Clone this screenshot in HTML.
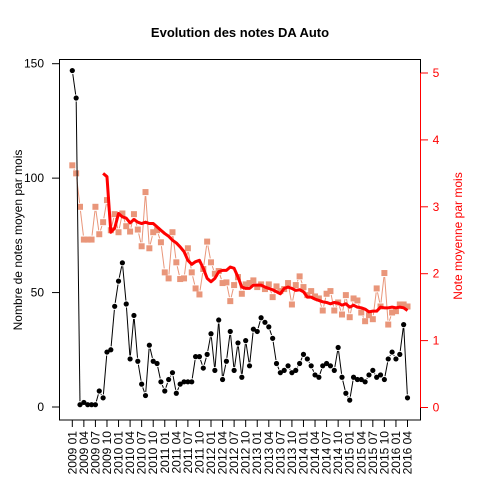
<!DOCTYPE html>
<html><head><meta charset="utf-8"><style>
body{margin:0;background:#fff}
svg text{font-family:"Liberation Sans",Arial,sans-serif}
</style></head><body>
<svg id="chart" width="480" height="480" xmlns="http://www.w3.org/2000/svg">
<rect width="480" height="480" fill="#fff"/>
<text x="240" y="37" text-anchor="middle" font-size="13" font-weight="bold">Evolution des notes DA Auto</text>
<g id="plot"></g>
</svg>
<script>
const counts = [147,135,1,2,1,1,1,7,4,24,25,44,55,63,45,21,40,20,10,5,27,20,19,11,7,12,15,6,10,11,11,11,22,22,17,23,32,16,38,12,20,33,16,28,13,29,18,34,33,39,37,35,30,19,15,16,18,15,16,19,23,21,18,14,13,18,19,18,16,26,13,6,3,13,12,12,11,14,16,13,14,12,21,24,21,23,36,4];
const notes = [3.62,3.5,3.0,2.51,2.51,2.51,3.0,2.59,2.77,3.1,2.65,2.89,2.62,2.9,2.71,2.63,2.89,2.66,2.41,3.22,2.38,2.62,2.65,2.47,2.02,1.93,2.62,2.17,1.92,1.93,2.38,2.02,1.78,1.69,2.07,2.48,2.17,2.0,2.04,1.86,1.87,1.59,1.83,1.95,1.70,1.84,1.86,1.9,1.8,1.84,1.77,1.84,1.65,1.81,1.74,1.77,1.86,1.54,1.83,1.96,1.8,1.68,1.74,1.66,1.63,1.45,1.7,1.74,1.45,1.57,1.39,1.68,1.35,1.63,1.6,1.42,1.29,1.38,1.32,1.78,1.51,2.01,1.24,1.42,1.44,1.54,1.54,1.51];
const trendStart = 8;
const trend = [3.5,3.45,2.62,2.68,2.9,2.85,2.83,2.76,2.81,2.77,2.75,2.77,2.75,2.75,2.7,2.65,2.6,2.56,2.5,2.46,2.4,2.33,2.2,2.14,2.18,2.2,2.08,1.93,1.88,1.93,2.03,2.05,2.05,2.1,2.08,1.95,1.8,1.78,1.78,1.83,1.83,1.83,1.8,1.78,1.76,1.73,1.7,1.78,1.8,1.78,1.75,1.76,1.73,1.65,1.65,1.62,1.6,1.58,1.57,1.55,1.57,1.56,1.53,1.55,1.5,1.53,1.5,1.49,1.47,1.43,1.44,1.44,1.5,1.49,1.49,1.5,1.49,1.5,1.49,1.45];
const leftTicks = [0,50,100,150];
const rightTicks = [0,1,2,3,4,5];
const startYear = 2009, startMonth = 1;

const NS="http://www.w3.org/2000/svg";
const g=document.getElementById('plot');
function el(t,a,p){const e=document.createElementNS(NS,t);for(const k in a)e.setAttribute(k,a[k]);(p||g).appendChild(e);return e;}
const X=i=>72.3+i*(407.5-72.3)/87;
const YL=v=>407-v*(407-63.7)/150;
const YR=v=>407.5-v*(407.5-73)/5;

function typeB(pts,color,w,gap,name){
  for(let i=0;i<pts.length-1;i++){
    const [x1,y1]=pts[i],[x2,y2]=pts[i+1];
    const dx=x2-x1,dy=y2-y1,L=Math.hypot(dx,dy);
    if(L<=2*gap) continue;
    const ux=dx/L,uy=dy/L;
    const s=el('line',{x1:x1+ux*gap,y1:y1+uy*gap,x2:x2-ux*gap,y2:y2-uy*gap,stroke:color,'stroke-width':w});
    
    
  }
}
// salmon notes
const np=notes.map((v,i)=>[X(i),YR(v)]);
typeB(np,'#E9967A',1,4,'notes-line-segment');
np.forEach(([x,y])=>{
  const r=el('rect',{x:x-3,y:y-3,width:6,height:6,fill:'#E9967A'});
  
  
});
// red trend
const tl=el('polyline',{points:trend.map((v,i)=>X(i+trendStart)+','+YR(v)).join(' '),fill:'none',stroke:'#FF0000','stroke-width':3,'stroke-linejoin':'round'});


// black counts
const cp=counts.map((v,i)=>[X(i),YL(v)]);
typeB(cp,'#000',1,3.5,'count-line-segment');
cp.forEach(([x,y])=>{
  const c=el('circle',{cx:x,cy:y,r:2.6,fill:'#000'});
  
  
});
// box
const box=el('rect',{x:59.5,y:59.5,width:361,height:360.5,fill:'none',stroke:'#000','stroke-width':1});


// left axis
leftTicks.forEach(v=>{
  const y=YL(v);
  const t=el('line',{x1:52,y1:y,x2:59.5,y2:y,stroke:'#000'});
  
  
  const lb=el('text',{x:44,y:y+4,'text-anchor':'end','font-size':12});
  lb.textContent=v;
  
  
});
const lt=el('text',{transform:'translate(22,240) rotate(-90)','text-anchor':'middle','font-size':12});
lt.textContent='Nombre de notes moyen par mois';


// right axis
const ra=el('line',{x1:420.5,y1:YR(0),x2:420.5,y2:YR(5),stroke:'#FF0000'});


rightTicks.forEach(v=>{
  const y=YR(v);
  const t=el('line',{x1:420.5,y1:y,x2:428,y2:y,stroke:'#FF0000'});
  
  
  const lb=el('text',{x:436,y:y+4,'text-anchor':'middle','font-size':12,fill:'#FF0000'});
  lb.textContent=v;
  
  
});
const rt=el('text',{transform:'translate(462,236) rotate(-90)','text-anchor':'middle','font-size':12,fill:'#FF0000'});
rt.textContent='Note moyenne par mois';


// x axis
for(let i=0;i<counts.length;i+=3){
  const x=X(i);
  const t=el('line',{x1:x,y1:420,x2:x,y2:427,stroke:'#000'});
  
  
  const m=startMonth-1+i, yr=startYear+Math.floor(m/12), mo=m%12+1;
  const lb=el('text',{transform:`translate(${x+4},431) rotate(-90)`,'text-anchor':'end','font-size':12});
  lb.textContent=yr+' '+String(mo).padStart(2,'0');
  
  
}
</script>
</body></html>
